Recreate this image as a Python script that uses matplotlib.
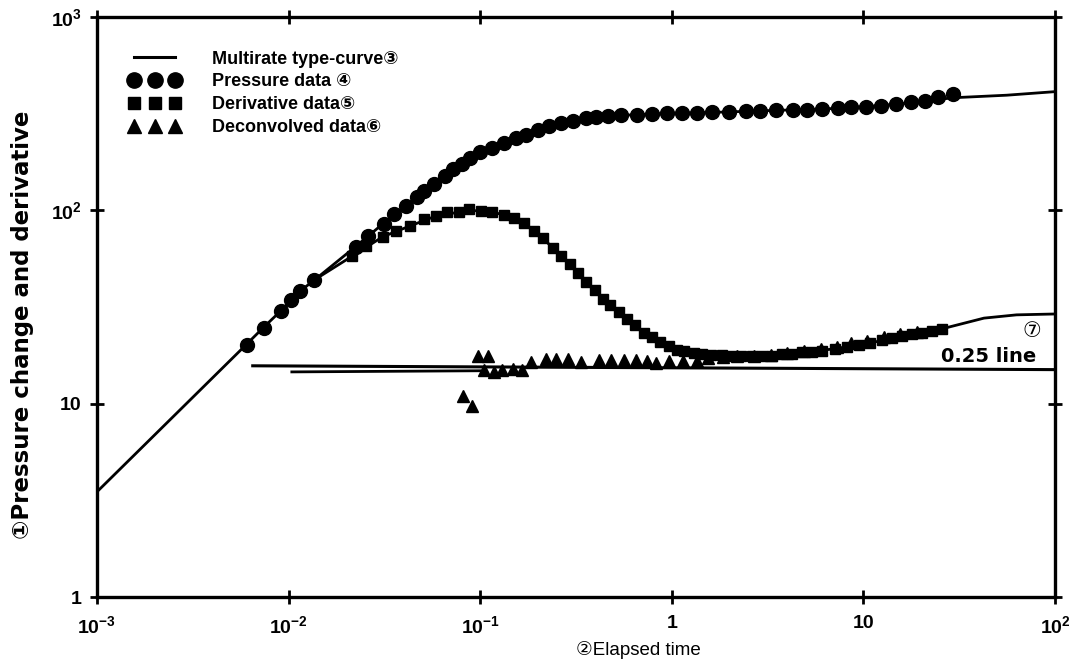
import matplotlib
matplotlib.use("Agg")
import matplotlib.pyplot as plt
from matplotlib.lines import Line2D

plt.rcParams['font.family'] = ['Liberation Sans', 'DejaVu Sans', 'Noto Sans CJK JP']
plt.rcParams['mathtext.fontset'] = 'custom'
plt.rcParams['mathtext.rm'] = 'Liberation Sans'
plt.rcParams['mathtext.bf'] = 'Liberation Sans:bold'

# ---- multirate type-curve (model) ----
model_t = [0.001, 0.0061, 0.0074, 0.0092, 0.0114, 0.0138, 0.0224, 0.031, 0.041,
           0.051, 0.065, 0.08, 0.1, 0.133, 0.173, 0.229, 0.306, 0.404, 0.55,
           0.79, 1.13, 1.63, 2.43, 3.48, 5.1, 7.36, 10.3, 14.8, 21.0, 29.0, 56.0, 100.0]
model_dp = [3.5, 20.5, 24.8, 30.5, 38.0, 44.0, 65.0, 85.0, 105.0,
            126.0, 151.0, 174.0, 198.0, 224.0, 247.0, 273.0, 290.0, 303.0, 310.0,
            315.0, 318.0, 321.0, 325.0, 329.0, 332.0, 337.0, 344.0, 354.0, 366.0, 382.0, 394.0, 411.0]

model_dt = [0.0138, 0.0215, 0.031, 0.043, 0.058, 0.087, 0.115, 0.15, 0.19, 0.24,
            0.29, 0.356, 0.435, 0.53, 0.64, 0.785, 0.96, 1.16, 1.6, 2.5, 3.5,
            4.8, 7.0, 10.8, 15.9, 25.8, 42.6, 63.0, 100.0]
model_deriv = [44.0, 58.0, 73.0, 83.0, 93.0, 100.0, 98.5, 91.0, 79.0, 64.0,
               53.0, 43.0, 35.0, 29.7, 25.4, 22.0, 20.0, 18.7, 17.9, 17.6, 17.8,
               18.4, 19.2, 20.6, 22.3, 24.4, 27.7, 28.8, 29.1]

# ---- 0.25 line and the lower reference line ----
quarter_t = [0.0065, 100.0]
quarter_v = [15.7, 15.0]
lower_t = [0.0104, 0.1]
lower_v = [14.6, 14.8]

# ---- pressure data ----
pres_t = [0.00608, 0.0074, 0.00914, 0.01035, 0.01143, 0.0135, 0.0224, 0.026, 0.0313,
          0.0353, 0.0409, 0.0469, 0.051, 0.0577, 0.0652, 0.0719, 0.0803, 0.0886, 0.1,
          0.1157, 0.1324, 0.153, 0.173, 0.2, 0.229, 0.265, 0.306, 0.358, 0.404,
          0.467, 0.546, 0.655, 0.785, 0.94, 1.13, 1.35, 1.63, 2.0, 2.43, 2.9, 3.48,
          4.28, 5.1, 6.1, 7.36, 8.6, 10.3, 12.4, 14.8, 17.7, 21.0, 24.6, 29.4]
pres_v = [20.1, 24.5, 30.0, 34.3, 38.2, 43.5, 64.9, 74.0, 85.3,
          96.0, 105.0, 117.0, 126.0, 137.0, 150.0, 163.0, 173.0, 186.0, 200.0,
          210.0, 224.0, 238.0, 246.0, 261.0, 273.0, 283.0, 289.0, 299.0, 303.0,
          306.0, 310.0, 313.0, 315.0, 317.0, 318.0, 320.0, 321.0, 322.0, 325.0, 327.0, 329.0,
          330.0, 331.0, 334.0, 337.0, 341.0, 344.0, 348.0, 355.0, 362.0, 368.0, 385.0, 398.0]

# ---- derivative data ----
deriv_t = [0.0215, 0.0253, 0.0311, 0.0365, 0.0432, 0.0507, 0.0586, 0.067, 0.0773, 0.0872,
           0.101, 0.115, 0.133, 0.150, 0.169, 0.19, 0.214, 0.241, 0.265, 0.294,
           0.324, 0.356, 0.396, 0.435, 0.478, 0.531, 0.584, 0.641, 0.714, 0.785,
           0.865, 0.962, 1.06, 1.16, 1.30, 1.43, 1.61, 1.82, 2.05, 2.31,
           2.61, 2.94, 3.32, 3.74, 4.22, 4.76, 5.37, 6.07, 7.1, 8.2,
           9.5, 10.8, 12.5, 14.1, 15.9, 17.9, 20.2, 22.8, 25.8]
deriv_v = [58.3, 65.6, 72.9, 78.2, 83.0, 90.0, 93.0, 97.7, 98.6, 101.0,
           99.5, 98.2, 94.6, 91.0, 85.5, 78.6, 72.0, 64.0, 58.1, 52.6,
           47.2, 42.8, 38.9, 34.8, 32.4, 29.7, 27.3, 25.4, 23.3, 22.0,
           20.9, 19.9, 19.0, 18.7, 18.2, 18.0, 17.8, 17.8, 17.7, 17.7,
           17.7, 17.6, 17.6, 18.0, 18.0, 18.4, 18.6, 18.8, 19.2, 19.7,
           20.1, 20.6, 21.3, 21.8, 22.3, 22.8, 23.3, 23.8, 24.4]

# ---- deconvolved data ----
deconv_t = [0.081, 0.0905, 0.098, 0.11, 0.105, 0.118, 0.13, 0.148, 0.165, 0.184,
            0.220, 0.248, 0.287, 0.336, 0.417, 0.482, 0.564, 0.652, 0.74, 0.83,
            0.97, 1.15, 1.35, 1.55, 1.85, 2.2, 2.7, 3.3, 4.0, 4.9,
            6.0, 7.3, 8.6, 10.5, 12.8, 15.5, 19.0]
deconv_v = [11.0, 9.75, 17.6, 17.6, 15.0, 14.6, 14.9, 15.1, 15.0, 16.5,
            17.1, 17.1, 17.1, 16.4, 16.8, 16.8, 16.9, 16.9, 16.6, 16.3,
            16.6, 16.7, 16.7, 17.2, 17.5, 17.6, 17.7, 17.8, 18.2, 18.7,
            19.2, 19.7, 20.6, 21.2, 22.0, 22.8, 23.6]

x_ticks = [1e-3, 1e-2, 1e-1, 1, 10, 100]
x_ticklabels = [r'$\mathbf{10^{-3}}$', r'$\mathbf{10^{-2}}$', r'$\mathbf{10^{-1}}$',
                '1', '10', r'$\mathbf{10^{2}}$']
y_ticks = [1, 10, 100, 1000]
y_ticklabels = ['1', '10', r'$\mathbf{10^{2}}$', r'$\mathbf{10^{3}}$']

legend_labels = ['Multirate type-curve\u2462', 'Pressure data \u2463',
                 'Derivative data\u2464', 'Deconvolved data\u2465']

fig = plt.figure(figsize=(10.92, 6.69), dpi=100)
ax = fig.add_axes([0.0888, 0.1076, 0.8773, 0.867])
ax.set_xscale('log')
ax.set_yscale('log')
ax.set_xlim(1e-3, 1e2)
ax.set_ylim(1, 1e3)

lw = 2.0
ax.plot(model_t, model_dp, color='black', lw=lw, zorder=2)
ax.plot(model_dt, model_deriv, color='black', lw=lw, zorder=2)
ax.plot(quarter_t, quarter_v, color='black', lw=2.2, zorder=2)
ax.plot(lower_t, lower_v, color='black', lw=2.0, zorder=2)

ax.plot(pres_t, pres_v, 'o', color='black', ms=10, zorder=3)
ax.plot(deriv_t, deriv_v, 's', color='black', ms=7, zorder=3)
ax.plot(deconv_t, deconv_v, '^', color='black', ms=8.5, zorder=4)

# axes frame and cross ticks
for sp in ax.spines.values():
    sp.set_linewidth(2.4)
ax.minorticks_off()
ax.tick_params(which='major', direction='inout', length=10, width=2,
               top=True, right=True, labelsize=14, pad=6)
ax.set_xticks(x_ticks)
ax.set_xticklabels(x_ticklabels, fontweight='bold')
ax.set_yticks(y_ticks)
ax.set_yticklabels(y_ticklabels, fontweight='bold')
ax.tick_params(axis='x', pad=8)

ax.set_ylabel('\u2460Pressure change and derivative', fontsize=16.5,
              fontweight='bold', family=['DejaVu Sans', 'Noto Sans CJK JP'])
ax.yaxis.set_label_coords(-0.066, 0.47)
ax.set_xlabel('\u2461Elapsed time', fontsize=13.5)
ax.xaxis.set_label_coords(0.565, -0.075)

# annotations at the right
ax.text(45.0, 17.6, '0.25 line', fontsize=14, fontweight='bold',
        ha='center', va='center', family=['DejaVu Sans'])
ax.text(76.0, 23.8, '\u2466', fontsize=15, ha='center', va='center',
        family=['DejaVu Sans', 'Noto Sans CJK JP'])

handles = [
    Line2D([], [], color='black', lw=2.2),
    Line2D([], [], ls='none', marker='o', color='black', ms=11),
    Line2D([], [], ls='none', marker='s', color='black', ms=8),
    Line2D([], [], ls='none', marker='^', color='black', ms=10),
]
leg = ax.legend(handles, legend_labels, loc='upper left',
                bbox_to_anchor=(0.016, 0.97), frameon=False, numpoints=3,
                handlelength=2.9, handletextpad=1.7, labelspacing=0.32,
                prop={'family': ['Liberation Sans', 'DejaVu Sans'],
                      'weight': 'bold', 'size': 13})

fig.savefig('out.png', dpi=100, facecolor='white')
